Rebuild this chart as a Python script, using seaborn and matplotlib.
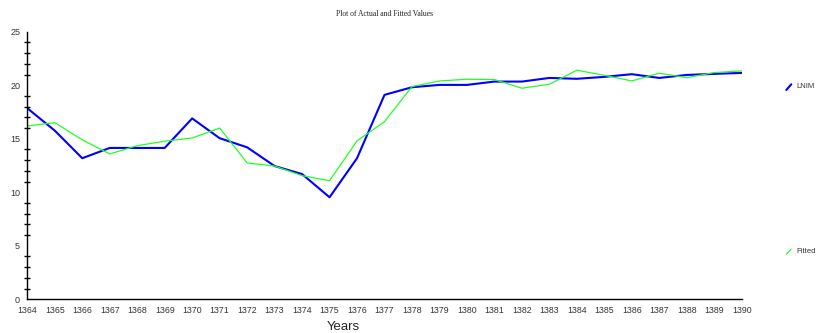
import matplotlib
matplotlib.use("Agg")
import matplotlib.pyplot as plt
from matplotlib.lines import Line2D
from matplotlib.ticker import MultipleLocator
import seaborn as sns
import pandas as pd

years = list(range(1364, 1391))
lnim = [17.85, 15.76, 13.18, 14.14, 14.14, 14.14, 16.90, 15.05, 14.20, 12.45,
        11.70, 9.53, 13.18, 19.10, 19.81, 20.03, 20.03, 20.34, 20.34, 20.68,
        20.60, 20.78, 21.03, 20.68, 20.96, 21.06, 21.15]
fitted = [16.20, 16.50, 14.90, 13.58, 14.35, 14.77, 15.07, 16.00, 12.74, 12.45,
          11.55, 11.08, 14.80, 16.60, 19.87, 20.40, 20.56, 20.53, 19.72, 20.09,
          21.40, 20.93, 20.40, 21.12, 20.71, 21.18, 21.34]
series_names = ["LNIM", "Fitted"]
series_colors = ["#0000ff", "#22ff22"]

df = pd.DataFrame({"Year": years, "LNIM": lnim, "Fitted": fitted})

sns.set_style("white")
plt.rcParams["font.family"] = ["Liberation Sans", "DejaVu Sans"]

W, H = 817, 333
fig = plt.figure(figsize=(W / 100, H / 100), dpi=100)
ax = fig.add_axes([27.3 / W, (H - 299.3) / H, (741.7 - 27.3) / W, (299.3 - 31.7) / H])

sns.lineplot(data=df, x="Year", y="LNIM", ax=ax, color=series_colors[0], linewidth=1.5)
sns.lineplot(data=df, x="Year", y="Fitted", ax=ax, color=series_colors[1], linewidth=0.9)

ax.set_xlim(1364, 1390)
ax.set_ylim(0, 25)
ax.set_xticks(years)
ax.set_xticklabels([str(y) for y in years])
ax.yaxis.set_major_locator(MultipleLocator(5))
ax.yaxis.set_minor_locator(MultipleLocator(1))
ax.set_xlabel("")
ax.set_ylabel("")

for side in ["top", "right"]:
    ax.spines[side].set_visible(False)
for side in ["left", "bottom"]:
    ax.spines[side].set_color("black")
    ax.spines[side].set_linewidth(1.0)
    ax.spines[side].set_visible(True)

ax.tick_params(axis="y", which="major", direction="inout", length=9.4, width=1.0,
               color="black", labelsize=6.5, labelcolor="#333333", pad=0.5)
ax.tick_params(axis="y", which="minor", direction="inout", length=5.0, width=1.0,
               color="black", left=True)
ax.tick_params(axis="x", which="major", direction="inout", length=7.2, width=1.0,
               color="black", labelsize=6.3, labelcolor="#333333", pad=1.3)
ax.patch.set_visible(False)

fig.text(385 / W, 1 - 14 / H, "Plot of Actual and Fitted Values", ha="center", va="center",
         fontsize=5.5, family=["Liberation Serif", "DejaVu Serif"], color="#222222")
fig.text(343 / W, 1 - 332.5 / H, "Years", ha="center", va="bottom", fontsize=9.5,
         color="#222222")

# Legend entries drawn as short slanted strokes at the right edge
legend_pos = [(87.0, 786.3, 90.0, 791.3, 84.3), (251.7, 786.3, 254.3, 791.0, 249.3)]
for name, col, lw, (ty, x0, y0, x1, y1) in zip(series_names, series_colors, [1.5, 0.9], legend_pos):
    fig.add_artist(Line2D([x0 / W, x1 / W], [1 - y0 / H, 1 - y1 / H], color=col, linewidth=lw,
                          transform=fig.transFigure))
    fig.text(796.5 / W, 1 - ty / H, name, ha="left", va="center", fontsize=5.5, color="#333333")

fig.savefig("out.png", dpi=100)
